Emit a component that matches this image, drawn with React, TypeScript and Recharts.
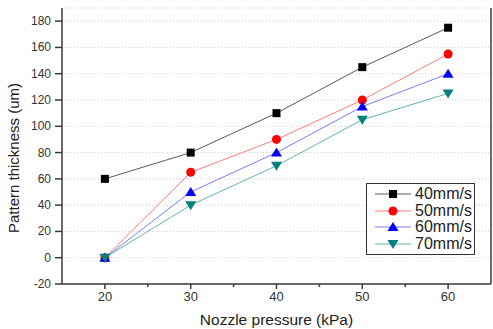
import { LineChart, Line, XAxis, YAxis, CartesianGrid, Legend } from 'recharts';

const pressures = [20, 30, 40, 50, 60];
const speed40 = [60, 80, 110, 145, 175];
const speed50 = [0, 65, 90, 120, 155];
const speed60 = [0, 50, 80, 115, 140];
const speed70 = [0, 40, 70, 105, 125];
const seriesNames = ['40mm/s', '50mm/s', '60mm/s', '70mm/s'];
const xTicks = [20, 25, 30, 35, 40, 45, 50, 55, 60];
const xLabelTicks = [20, 30, 40, 50, 60];
const yTicks = [-20, 0, 20, 40, 60, 80, 100, 120, 140, 160, 180];

const FONT = '"Liberation Sans", Arial, sans-serif';
const AXIS = '#3a3a3a';

const data = pressures.map((p, i) => ({
  pressure: p,
  s40: speed40[i],
  s50: speed50[i],
  s60: speed60[i],
  s70: speed70[i],
}));

type Shape = 'square' | 'circle' | 'up' | 'down';

const series: { key: string; name: string; line: string; mark: string; shape: Shape }[] = [
  { key: 's40', name: seriesNames[0], line: '#5a5a5a', mark: '#000000', shape: 'square' },
  { key: 's50', name: seriesNames[1], line: '#ff7a7a', mark: '#ff0000', shape: 'circle' },
  { key: 's60', name: seriesNames[2], line: '#7a7aff', mark: '#0000ff', shape: 'up' },
  { key: 's70', name: seriesNames[3], line: '#5fb5ad', mark: '#008080', shape: 'down' },
];

function Marker({ shape, x, y, color }: { shape: Shape; x: number; y: number; color: string }) {
  if (shape === 'square') return <rect x={x - 4} y={y - 4} width={8} height={8} fill={color} />;
  if (shape === 'circle') return <circle cx={x} cy={y} r={4.5} fill={color} />;
  if (shape === 'up') return <polygon points={`${x},${y - 5} ${x + 5.5},${y + 4} ${x - 5.5},${y + 4}`} fill={color} />;
  return <polygon points={`${x - 5.5},${y - 4} ${x + 5.5},${y - 4} ${x},${y + 5}`} fill={color} />;
}

const XTick = (props: any) => {
  const { x, y, payload } = props;
  const major = xLabelTicks.includes(payload.value);
  return (
    <g>
      <line x1={x} x2={x} y1={y} y2={y + (major ? 5 : 3)} stroke={AXIS} strokeWidth={1.5} />
      {major && (
        <text x={x} y={y + 17} textAnchor="middle" fontSize={13} fontFamily={FONT} fill="#333">
          {payload.value}
        </text>
      )}
    </g>
  );
};

const YTick = (props: any) => {
  const { x, y, payload } = props;
  return (
    <g>
      <line x1={x - 7} x2={x} y1={y} y2={y} stroke={AXIS} strokeWidth={1.5} />
      <text x={x - 11} y={y + 4} textAnchor="end" fontSize={12} fontFamily={FONT} fill="#333">
        {payload.value}
      </text>
    </g>
  );
};

const RightTick = (props: any) => {
  const { x, y } = props;
  return <line x1={x - 6} x2={x} y1={y} y2={y} stroke={AXIS} strokeWidth={1.5} />;
};

const LegendBox = () => (
  <div
    style={{
      border: '1px solid #333',
      background: '#fff',
      width: 107,
      padding: '2px 0 2px 0',
      fontFamily: FONT,
      fontSize: 16,
      lineHeight: '16px',
      color: '#222',
    }}
  >
    {series.map((s) => (
      <div key={s.key} style={{ display: 'flex', alignItems: 'center', height: 16.5 }}>
        <svg width={48} height={16} style={{ flex: 'none' }}>
          <line x1={8} x2={44} y1={8} y2={8} stroke={s.line} strokeWidth={1} />
          <Marker shape={s.shape} x={26} y={8} color={s.mark} />
        </svg>
        <span>{s.name}</span>
      </div>
    ))}
  </div>
);

export default function App() {
  return (
    <div style={{ position: 'absolute', left: 0, top: 0, width: 493, height: 329, background: '#fff' }}>
      <LineChart width={493} height={329} data={data} margin={{ top: 8, right: 1, bottom: 0, left: 0 }}>
        <CartesianGrid horizontal vertical={false} stroke="#cfcfcf" strokeDasharray="1 2" />
        <XAxis
          dataKey="pressure"
          type="number"
          domain={[15, 65]}
          ticks={xTicks}
          interval={0}
          height={45}
          tickSize={0}
          tickMargin={0}
          tickLine={false}
          tick={<XTick />}
          axisLine={{ stroke: AXIS, strokeWidth: 1.5 }}
          label={(p: any) => {
            const vb = p.viewBox;
            return (
              <text x={vb.x + vb.width / 2} y={325} textAnchor="middle" fontSize={15.5} fontFamily={FONT} fill="#222">
                Nozzle pressure (kPa)
              </text>
            );
          }}
        />
        <XAxis
          xAxisId="top"
          orientation="top"
          type="number"
          domain={[15, 65]}
          height={0}
          tick={false}
          tickLine={false}
          axisLine={{ stroke: AXIS, strokeWidth: 1.5 }}
        />
        <YAxis
          type="number"
          domain={[-20, 190]}
          ticks={yTicks}
          interval={0}
          width={62}
          tickSize={0}
          tickMargin={0}
          tickLine={false}
          tick={<YTick />}
          axisLine={{ stroke: AXIS, strokeWidth: 1.5 }}
          label={(p: any) => {
            const vb = p.viewBox;
            const cy = vb.y + vb.height / 2 + 12;
            return (
              <text
                x={19}
                y={cy}
                transform={`rotate(-90, 19, ${cy})`}
                textAnchor="middle"
                fontSize={15}
                fontFamily={FONT}
                fill="#222"
              >
                Pattern thickness (um)
              </text>
            );
          }}
        />
        <YAxis
          yAxisId="right"
          orientation="right"
          type="number"
          domain={[-20, 190]}
          ticks={yTicks}
          interval={0}
          width={1}
          tickSize={0}
          tickMargin={0}
          tickLine={false}
          tick={<RightTick />}
          axisLine={{ stroke: AXIS, strokeWidth: 1.5 }}
        />
        {series.map((s) => (
          <Line
            key={s.key}
            dataKey={s.key}
            name={s.name}
            stroke={s.line}
            strokeWidth={1}
            isAnimationActive={false}
            dot={(d: any) => <Marker key={`${s.key}-${d.index}`} shape={s.shape} x={d.cx} y={d.cy} color={s.mark} />}
            activeDot={false}
          />
        ))}
        <Legend
          layout="horizontal"
          verticalAlign="middle"
          align="center"
          wrapperStyle={{ left: 366, top: 183, width: 'auto', height: 'auto' }}
          content={() => <LegendBox />}
        />
      </LineChart>
    </div>
  );
}
